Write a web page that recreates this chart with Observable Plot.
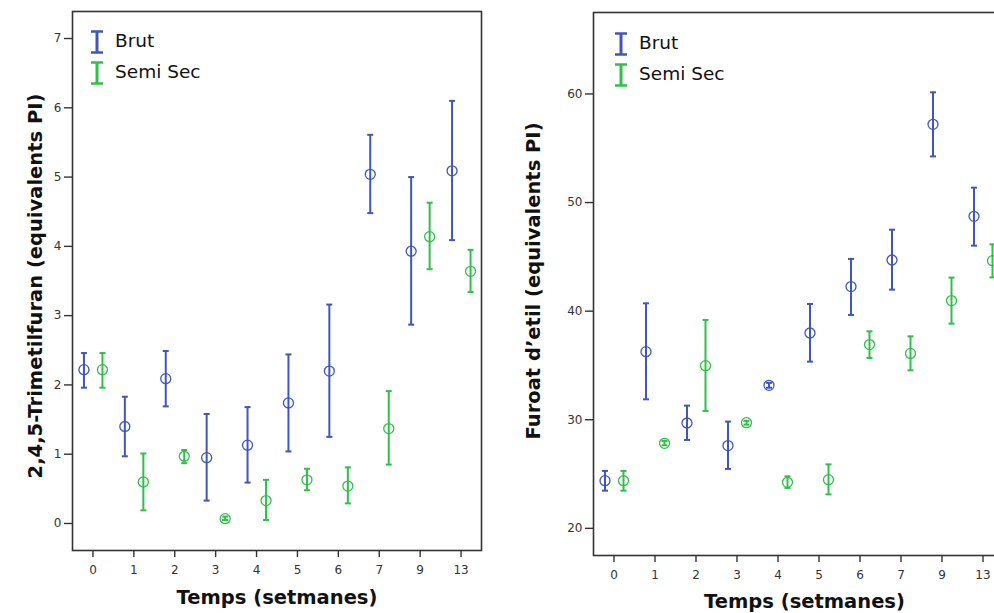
<!DOCTYPE html>
<html>
<head>
<meta charset="utf-8">
<script src="https://cdn.jsdelivr.net/npm/d3@7"></script>
<script src="https://cdn.jsdelivr.net/npm/@observablehq/plot@0.6"></script>
<style>
  html, body { margin: 0; padding: 0; background: #fff; overflow: hidden; }
  #wrap { position: relative; width: 994px; height: 613px; overflow: hidden; }
  .panel { position: absolute; top: 0; }
  .legend { position: absolute; font-family: "DejaVu Sans", Verdana, sans-serif; font-size: 18.5px; color: #111; }
  .legend .item { position: absolute; left: 0; white-space: nowrap; height: 26px; }
  .legend svg { position: absolute; left: 0; top: 0; }
  .legend span { position: absolute; left: 25px; top: 0px; line-height: 22px; }
</style>
</head>
<body>
<div id="wrap"></div>
<script>
// ---- data ----
const weeks = ["0", "1", "2", "3", "4", "5", "6", "7", "9", "13"];
const seriesNames = ["Brut", "Semi Sec"];
const seriesColors = ["#4056b8", "#2fbf4a"];

// 2,4,5-Trimetilfuran
const trimBrut   = [2.22, 1.40, 2.09, 0.95, 1.13, 1.74, 2.20, 5.04, 3.93, 5.09];
const trimBrutLo = [1.96, 0.97, 1.69, 0.33, 0.59, 1.04, 1.25, 4.48, 2.87, 4.09];
const trimBrutHi = [2.46, 1.83, 2.49, 1.58, 1.68, 2.44, 3.16, 5.61, 5.00, 6.10];
const trimSemi   = [2.22, 0.60, 0.97, 0.07, 0.33, 0.63, 0.54, 1.37, 4.14, 3.64];
const trimSemiLo = [1.96, 0.19, 0.87, 0.05, 0.05, 0.48, 0.29, 0.85, 3.67, 3.34];
const trimSemiHi = [2.46, 1.01, 1.06, 0.10, 0.63, 0.79, 0.81, 1.91, 4.63, 3.95];
const trimTicks = [0, 1, 2, 3, 4, 5, 6, 7];

// Furoat d'etil
const furBrut   = [24.39, 36.27, 29.70, 27.62, 33.17, 37.99, 42.26, 44.71, 57.20, 48.73];
const furBrutLo = [23.47, 31.88, 28.14, 25.47, 32.95, 35.35, 39.65, 41.98, 54.25, 46.03];
const furBrutHi = [25.29, 40.72, 31.30, 29.83, 33.40, 40.66, 44.81, 47.50, 60.15, 51.37];
const furSemi   = [24.39, 27.83, 34.98, 29.73, 24.24, 24.48, 36.92, 36.11, 40.97, 44.65];
const furSemiLo = [23.47, 27.65, 30.81, 29.55, 23.72, 23.13, 35.69, 34.55, 38.85, 43.11];
const furSemiHi = [25.29, 28.05, 39.19, 29.90, 24.79, 25.89, 38.14, 37.68, 43.09, 46.15];
const furTicks = [20, 30, 40, 50, 60];

const xLabel = "Temps (setmanes)";
const trimLabel = "2,4,5-Trimetilfuran (equivalents PI)";
const furLabel = "Furoat d\u2019etil (equivalents PI)";

// ---- drawing ----
const cap = { draw(ctx) { ctx.moveTo(-3, 0); ctx.lineTo(3, 0); } };

function panel(o) {
  const marks = [];
  o.series.forEach((s) => {
    const rows = weeks.map((w, i) => ({ week: w, m: s.mean[i], lo: s.lo[i], hi: s.hi[i] }));
    marks.push(
      Plot.ruleX(rows, { x: "week", y1: "lo", y2: "hi", stroke: s.color, strokeWidth: 2, dx: s.dx }),
      Plot.dot(rows, { x: "week", y: "lo", symbol: cap, fill: "none", stroke: s.color, strokeWidth: 2, dx: s.dx }),
      Plot.dot(rows, { x: "week", y: "hi", symbol: cap, fill: "none", stroke: s.color, strokeWidth: 2, dx: s.dx }),
      Plot.dot(rows, { x: "week", y: "m", r: 5, fill: "none", stroke: s.color, strokeWidth: 1.3, dx: s.dx })
    );
  });
  marks.push(
    Plot.axisX({ tickSize: 7, tickPadding: 8, fontSize: 12, fill: "#333", stroke: "#333", strokeWidth: 1.4, label: null }),
    Plot.axisY({ ticks: o.yTicks, tickSize: 8, tickPadding: 3, fontSize: 12, fill: "#333", stroke: "#333", strokeWidth: 1.4, label: null }),
    Plot.frame({ stroke: "#333", strokeWidth: 1.6 }),
    Plot.text([o.ylabel], { text: (d) => d, frameAnchor: "left", rotate: -90, textAnchor: "middle", lineAnchor: "middle",
      dx: o.ylabelDx, dy: o.ylabelDy, fontSize: 19.5, fontWeight: "bold", fill: "#111" }),
    Plot.text([xLabel], { text: (d) => d, frameAnchor: "bottom", textAnchor: "middle", lineAnchor: "middle",
      dx: o.xlabelDx, dy: o.xlabelDy, fontSize: 19.5, fontWeight: "bold", fill: "#111" })
  );
  return Plot.plot({
    width: o.width, height: 613,
    marginLeft: o.ml, marginRight: o.mr, marginTop: o.mt, marginBottom: o.mb,
    style: { fontFamily: "DejaVu Sans, Verdana, sans-serif", background: "#fff", overflow: "visible" },
    x: { type: "point", domain: weeks, padding: 0.5, round: false, axis: null },
    y: { domain: o.yDomain, axis: null },
    marks
  });
}

function legend(left, top) {
  const div = document.createElement("div");
  div.className = "legend";
  div.style.left = left + "px";
  div.style.top = top + "px";
  seriesNames.forEach((name, i) => {
    const item = document.createElement("div");
    item.className = "item";
    item.style.top = (i * 31) + "px";
    const c = seriesColors[i];
    item.innerHTML = `<svg width="14" height="26"><line x1="7" x2="7" y1="1" y2="23" stroke="${c}" stroke-width="3"/>` +
      `<line x1="1" x2="13" y1="1.5" y2="1.5" stroke="${c}" stroke-width="2.5"/>` +
      `<line x1="1" x2="13" y1="22.5" y2="22.5" stroke="${c}" stroke-width="2.5"/></svg><span>${name}</span>`;
    div.appendChild(item);
  });
  return div;
}

const wrap = document.getElementById("wrap");

const left = panel({
  width: 497, ml: 72, mr: 16, mt: 11, mb: 63,
  yDomain: [-0.39, 7.39], yTicks: trimTicks,
  ylabel: trimLabel, ylabelDx: -37, ylabelDy: 5, xlabelDx: 0, xlabelDy: 47,
  series: [
    { mean: trimBrut, lo: trimBrutLo, hi: trimBrutHi, color: seriesColors[0], dx: -9 },
    { mean: trimSemi, lo: trimSemiLo, hi: trimSemiHi, color: seriesColors[1], dx: 9.5 }
  ]
});
left.classList.add("panel");
left.style.left = "0px";
wrap.appendChild(left);

const right = panel({
  width: 520, ml: 96, mr: 14, mt: 12, mb: 58,
  yDomain: [17.5, 67.5], yTicks: furTicks,
  ylabel: furLabel, ylabelDx: -60, ylabelDy: -3, xlabelDx: 6, xlabelDy: 46,
  series: [
    { mean: furBrut, lo: furBrutLo, hi: furBrutHi, color: seriesColors[0], dx: -9 },
    { mean: furSemi, lo: furSemiLo, hi: furSemiHi, color: seriesColors[1], dx: 9.5 }
  ]
});
right.classList.add("panel");
right.style.left = "497px";
wrap.appendChild(right);

wrap.appendChild(legend(90, 30));
wrap.appendChild(legend(614, 32));
</script>
</body>
</html>
